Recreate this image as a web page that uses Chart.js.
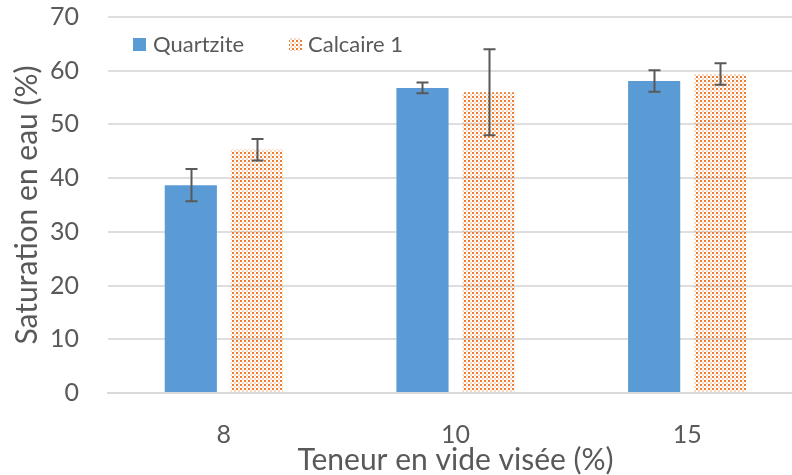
<!DOCTYPE html>
<html>
<head>
<meta charset="utf-8">
<script src="https://cdn.jsdelivr.net/npm/chart.js@4.4.1/dist/chart.umd.min.js"></script>
<style>
  html, body { margin: 0; padding: 0; background: #fff; overflow: hidden; }
</style>
</head>
<body>
<canvas id="chart" width="812" height="475"></canvas>
<script>
// Void content targets (x categories)
const categories = ['8', '10', '15'];

// Water saturation (%) and standard deviation per aggregate
const quartzite = [38.7, 56.8, 58.1];
const quartziteErr = [3.0, 1.0, 2.0];
const calcaire = [45.3, 56.0, 59.4];
const calcaireErr = [2.0, 8.0, 2.0];

// Y axis ticks
const yTicks = [0, 10, 20, 30, 40, 50, 60, 70];

const FONT = 'Lato';
const TEXT = '#595959';
const BLUE = '#5B9BD5';
const ORANGE = '#ED7D31';

// dotted fill, like Excel's pattern fill
function makeDots() {
    const c = document.createElement('canvas');
    c.width = 4;
    c.height = 4;
    const g = c.getContext('2d');
    g.fillStyle = ORANGE;
    g.fillRect(0, 0, 2, 2);
    g.fillStyle = 'rgba(237,125,49,0.3)';
    g.fillRect(2, 2, 2, 2);
    return g.createPattern(c, 'repeat');
}

const ctx = document.getElementById('chart').getContext('2d');
const dots = makeDots();

// error bars drawn on top of each bar
const errorBars = {
    id: 'errorBars',
    afterDatasetsDraw(chart) {
        const c = chart.ctx;
        const y = chart.scales.y;
        c.save();
        c.strokeStyle = '#595959';
        c.lineWidth = 2;
        chart.data.datasets.forEach((ds, i) => {
            chart.getDatasetMeta(i).data.forEach((bar, j) => {
                const v = ds.data[j];
                const e = ds.errors[j];
                const top = y.getPixelForValue(v + e);
                const bot = y.getPixelForValue(v - e);
                const x = Math.round(bar.x) + 0.5;
                c.beginPath();
                c.moveTo(x, top);
                c.lineTo(x, bot);
                c.moveTo(x - 6, top);
                c.lineTo(x + 6, top);
                c.moveTo(x - 6, bot);
                c.lineTo(x + 6, bot);
                c.stroke();
            });
        });
        c.restore();
    }
};

// legend inside the plot, top left
const innerLegend = {
    id: 'innerLegend',
    afterDraw(chart) {
        const c = chart.ctx;
        const items = [[133, 153], [289, 308]];
        c.save();
        c.font = '22px ' + FONT;
        c.textBaseline = 'middle';
        chart.data.datasets.forEach((ds, i) => {
            const [bx, tx] = items[i];
            c.fillStyle = ds.backgroundColor;
            c.fillRect(bx, 38, 13, 13);
            c.fillStyle = TEXT;
            c.fillText(ds.label, tx, 45);
        });
        c.restore();
    }
};

new Chart(ctx, {
    type: 'bar',
    data: {
        labels: categories,
        datasets: [{
            label: 'Quartzite',
            data: quartzite,
            errors: quartziteErr,
            backgroundColor: BLUE
        }, {
            label: 'Calcaire 1',
            data: calcaire,
            errors: calcaireErr,
            backgroundColor: dots
        }]
    },
    options: {
        responsive: false,
        animation: false,
        categoryPercentage: 0.57,
        barPercentage: 0.79,
        layout: { padding: { top: 17, right: 9, left: 0, bottom: 0 } },
        plugins: {
            legend: { display: false },
            tooltip: { enabled: false }
        },
        scales: {
            x: {
                grid: { display: false, drawTicks: false },
                border: { color: '#d9d9d9', width: 2 },
                ticks: { color: TEXT, font: { family: FONT, size: 25 }, padding: 27 },
                title: {
                    display: true,
                    text: 'Teneur en vide visée (%)',
                    color: TEXT,
                    font: { family: FONT, size: 30, lineHeight: 1.0 },
                    padding: 0
                },
                afterFit(scale) {
                    scale.height = 82;
                    scale.paddingLeft = 0;
                    scale.paddingRight = 0;
                }
            },
            y: {
                min: 0,
                max: 70,
                afterBuildTicks(scale) { scale.ticks = yTicks.map(v => ({ value: v })); },
                grid: { color: '#dedede', lineWidth: 2, drawTicks: false },
                border: { display: false },
                ticks: { color: TEXT, font: { family: FONT, size: 25 }, padding: 29 },
                title: {
                    display: true,
                    text: 'Saturation en eau (%)',
                    color: TEXT,
                    font: { family: FONT, size: 30 },
                    padding: 9
                },
                afterFit(scale) {
                    scale.width = 108;
                    scale.paddingTop = 0;
                    scale.paddingBottom = 0;
                }
            }
        }
    },
    plugins: [errorBars, innerLegend]
});
</script>
</body>
</html>
